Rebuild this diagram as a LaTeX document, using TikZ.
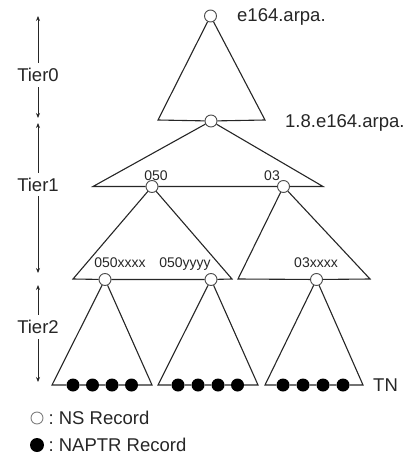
\documentclass[tikz,border=0pt]{standalone}
\usepackage{fontspec}
\setmainfont{Liberation Sans}
\usetikzlibrary{arrows.meta}
\begin{document}
\begin{tikzpicture}[x=1pt,y=-1pt,
  tri/.style={line width=1.1pt, draw=black!85, line join=miter},
  ns/.style={circle, draw=black!70, fill=white, line width=0.9pt, minimum size=12pt, inner sep=0pt},
  naptr/.style={circle, fill=black, minimum size=13pt, inner sep=0pt},
  big/.style={font=\fontsize{18.5}{20}\selectfont, inner sep=0pt, text=black!85},
  small/.style={font=\fontsize{14}{15}\selectfont, inner sep=0pt, text=black!85},
  tier/.style={{Stealth[length=5pt,width=4pt]}-{Stealth[length=5pt,width=4pt]}, line width=0.9pt, draw=black!85},
  tierlabel/.style={big, fill=white, inner xsep=1pt, inner ysep=5pt},
]
\useasboundingbox (0,0) rectangle (411,454);

% Tier0
\node[ns] (r0) at (210.5,16) {};
\node[ns] (r1) at (211,121) {};
\coordinate (a0l) at (158,120);
\coordinate (a0r) at (265,120);
\draw[tri] (r0) -- (a0l) -- (r1);
\draw[tri] (r0) -- (a0r) -- (r1);

% Tier1
\node[ns] (c050) at (152,186.5) {};
\node[ns] (c03) at (283.5,186.5) {};
\coordinate (b1l) at (93,186.5);
\coordinate (b1r) at (323,186.5);
\draw[tri] (r1) -- (b1l) -- (c050) -- (c03) -- (b1r) -- (r1);

% Tier2 upper
\node[ns] (ca) at (105,279.5) {};
\node[ns] (cb) at (211,279.5) {};
\node[ns] (cc) at (316.5,279.5) {};
\coordinate (u1l) at (73,279);
\coordinate (u1r) at (232,279);
\coordinate (u2l) at (238,279);
\coordinate (u2r) at (370,279);
\draw[tri] (c050) -- (u1l) -- (ca) -- (cb) -- (u1r) -- (c050);
\draw[tri] (c03) -- (u2l) -- (cc) -- (u2r) -- (c03);

% Tier2 lower
\foreach \n/\x in {11/73,12/92.5,13/112,14/131.5,21/178,22/198,23/218,24/237.5,31/283,32/303,33/323,34/343}
  \node[naptr] (d\n) at (\x,385) {};
\coordinate (w1l) at (52,385);
\coordinate (w1r) at (152,385);
\coordinate (w2l) at (158,385);
\coordinate (w2r) at (258,385);
\coordinate (w3l) at (265,385);
\coordinate (w3r) at (363,385);
\draw[tri] (ca) -- (w1l) -- (d11) -- (d12) -- (d13) -- (d14) -- (w1r) -- (ca);
\draw[tri] (cb) -- (w2l) -- (d21) -- (d22) -- (d23) -- (d24) -- (w2r) -- (cb);
\draw[tri] (cc) -- (w3l) -- (d31) -- (d32) -- (d33) -- (d34) -- (w3r) -- (cc);

% labels
\node[big, anchor=base west] (le164) at (237,22) {e164.arpa.};
\node[big, anchor=base west] (l18) at (285,128) {1.8.e164.arpa.};
\node[small, anchor=base] (l050) at (156,180) {050};
\node[small, anchor=base] (l03) at (272,180) {03};
\node[small, anchor=base] (l050x) at (120,267) {050xxxx};
\node[small, anchor=base] (l050y) at (185,267) {050yyyy};
\node[small, anchor=base] (l03x) at (316,267) {03xxxx};
\node[big, anchor=base west] (ltn) at (373,391.5) {TN};

% tier axis
\coordinate (t0a) at (38,16);
\coordinate (t0b) at (38,118);
\coordinate (t1a) at (38,123);
\coordinate (t1b) at (38,273);
\coordinate (t2a) at (38,285);
\coordinate (t2b) at (38,382);
\draw[tier] (t0a) -- (t0b) node[pos=0.58, tierlabel] (lt0) {Tier0};
\draw[tier] (t1a) -- (t1b) node[pos=0.41, tierlabel] (lt1) {Tier1};
\draw[tier] (t2a) -- (t2b) node[pos=0.43, tierlabel] (lt2) {Tier2};

% legend
\node[ns, draw=black!50] (lns) at (37,418) {};
\node[big, anchor=base west] (lnst) at (48.5,424.5) {:\hspace{5pt}NS Record};
\node[naptr, minimum size=14pt] (lna) at (37,445) {};
\node[big, anchor=base west] (lnat) at (48.5,451.5) {:\hspace{5pt}NAPTR Record};
\end{tikzpicture}
\end{document}
